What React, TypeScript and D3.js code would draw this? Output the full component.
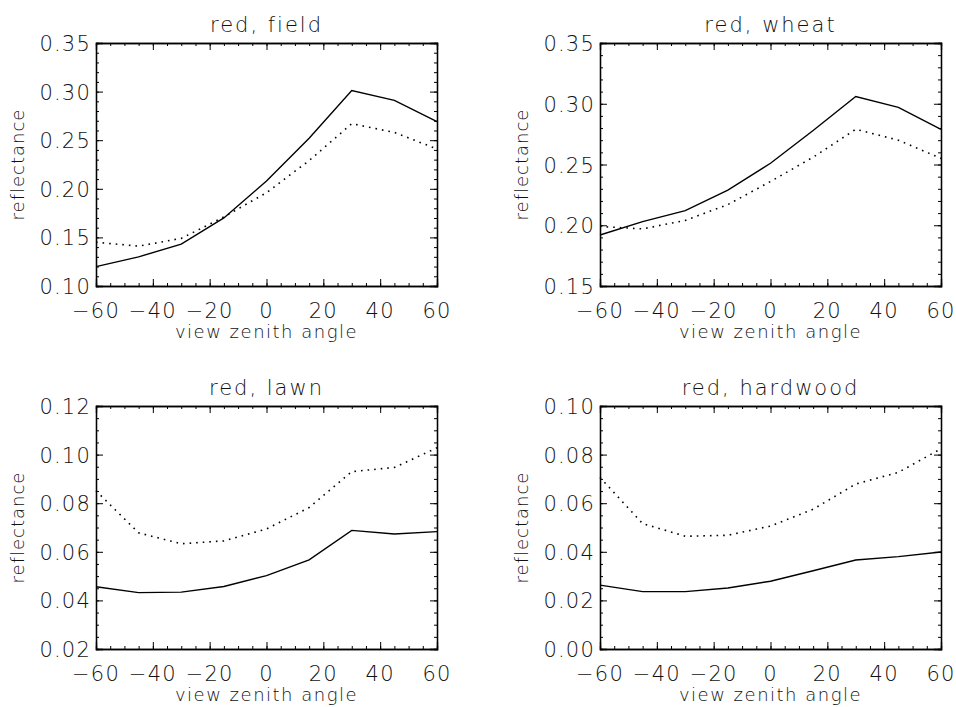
import React, { useEffect, useRef } from "react";
import * as d3 from "d3";

// view zenith angles shared by every panel
const angles = [-60, -45, -30, -15, 0, 15, 30, 45, 60];

const fieldSolid = [0.12, 0.13, 0.143, 0.17, 0.208, 0.252, 0.301, 0.291, 0.269];
const fieldDotted = [0.145, 0.141, 0.149, 0.171, 0.196, 0.229, 0.267, 0.258, 0.241];

const wheatSolid = [0.192, 0.203, 0.212, 0.229, 0.251, 0.278, 0.306, 0.297, 0.279];
const wheatDotted = [0.199, 0.197, 0.204, 0.217, 0.236, 0.256, 0.279, 0.27, 0.255];

const lawnSolid = [0.0456, 0.0432, 0.0434, 0.0457, 0.0502, 0.0567, 0.0688, 0.0673, 0.0683];
const lawnDotted = [0.0851, 0.0678, 0.0633, 0.0645, 0.0694, 0.0782, 0.093, 0.0947, 0.1028];

const hardwoodSolid = [0.0263, 0.0236, 0.0236, 0.0251, 0.0279, 0.0322, 0.0366, 0.038, 0.0399];
const hardwoodDotted = [0.0706, 0.0516, 0.0464, 0.0468, 0.0506, 0.0575, 0.0679, 0.0727, 0.0824];

const titles = ["red, field", "red, wheat", "red, lawn", "red, hardwood"];
const yDomains = [[0.1, 0.35], [0.15, 0.35], [0.02, 0.12], [0.0, 0.1]];
const yMajor = [0.05, 0.05, 0.02, 0.02];
const yMinor = [0.01, 0.01, 0.005, 0.005];
const xTicks = [-60, -40, -20, 0, 20, 40, 60];

const panels = [
  { solid: fieldSolid, dotted: fieldDotted, left: 96, top: 43 },
  { solid: wheatSolid, dotted: wheatDotted, left: 600, top: 43 },
  { solid: lawnSolid, dotted: lawnDotted, left: 96, top: 406 },
  { solid: hardwoodSolid, dotted: hardwoodDotted, left: 600, top: 406 }
];

const W = 341;
const H = 243;
const FONT = "'DejaVu Sans', sans-serif";

function range(a: number, b: number, step: number) {
  const out: number[] = [];
  const n = Math.round((b - a) / step);
  for (let i = 0; i <= n; i++) out.push(+(a + i * step).toFixed(6));
  return out;
}

function App() {
  const svgRef = useRef<SVGSVGElement>(null);

  useEffect(() => {
    const svg = d3.select(svgRef.current);
    svg.selectAll("*").remove();

    panels.forEach((p, i) => {
      const g = svg.append("g").attr("transform", `translate(${p.left},${p.top})`);
      const x = d3.scaleLinear().domain([-60, 60]).range([0, W]);
      const y = d3.scaleLinear().domain(yDomains[i]).range([H, 0]);

      const majorY = range(yDomains[i][0], yDomains[i][1], yMajor[i]);
      const minorY = range(yDomains[i][0], yDomains[i][1], yMinor[i]);
      const minorX = range(-60, 60, 5);

      // ticks on all four sides, pointing in
      const axB = d3.axisBottom(x).tickValues(minorX).tickSize(-3).tickFormat(() => "");
      const axT = d3.axisTop(x).tickValues(minorX).tickSize(-3).tickFormat(() => "");
      const axL = d3.axisLeft(y).tickValues(minorY).tickSize(-3).tickFormat(() => "");
      const axR = d3.axisRight(y).tickValues(minorY).tickSize(-3).tickFormat(() => "");
      g.append("g").attr("transform", `translate(0,${H})`).call(axB);
      g.append("g").call(axT);
      g.append("g").call(axL);
      g.append("g").attr("transform", `translate(${W},0)`).call(axR);
      g.append("g").attr("transform", `translate(0,${H})`)
        .call(d3.axisBottom(x).tickValues(xTicks).tickSize(-7).tickFormat(() => ""));
      g.append("g")
        .call(d3.axisTop(x).tickValues(xTicks).tickSize(-7).tickFormat(() => ""));
      g.append("g")
        .call(d3.axisLeft(y).tickValues(majorY).tickSize(-7).tickFormat(() => ""));
      g.append("g").attr("transform", `translate(${W},0)`)
        .call(d3.axisRight(y).tickValues(majorY).tickSize(-7).tickFormat(() => ""));
      g.selectAll(".domain").attr("stroke", "#000").attr("stroke-width", 1.3);
      g.selectAll(".tick line").attr("stroke", "#000").attr("stroke-width", 1);

      // tick labels
      g.selectAll(".xlab")
        .data(xTicks)
        .join("text")
        .attr("x", d => x(d))
        .attr("y", H + 32)
        .attr("text-anchor", "middle")
        .attr("font-size", 21)
        .attr("letter-spacing", 1.2)
        .text(d => (d < 0 ? "\u2212" + Math.abs(d) : String(d)));

      g.selectAll(".ylab")
        .data(majorY)
        .join("text")
        .attr("x", -5)
        .attr("y", d => y(d) + 8)
        .attr("text-anchor", "end")
        .attr("font-size", 21)
        .attr("letter-spacing", 1.2)
        .text(d => d3.format(".2f")(d));

      g.append("text")
        .attr("x", W / 2)
        .attr("y", -11)
        .attr("text-anchor", "middle")
        .attr("font-size", 21)
        .attr("letter-spacing", 2)
        .text(titles[i]);

      g.append("text")
        .attr("x", W / 2)
        .attr("y", H + 52)
        .attr("text-anchor", "middle")
        .attr("font-size", 18)
        .attr("letter-spacing", 1.5)
        .text("view zenith angle");

      g.append("text")
        .attr("transform", `translate(-72,${H / 2}) rotate(-90)`)
        .attr("text-anchor", "middle")
        .attr("font-size", 18)
        .attr("letter-spacing", 1)
        .text("reflectance");

      const line = d3.line<number>()
        .x((_, k) => x(angles[k]))
        .y(d => y(d));

      g.append("path")
        .datum(p.solid)
        .attr("fill", "none")
        .attr("stroke", "#000")
        .attr("stroke-width", 1.4)
        .attr("d", line);

      g.append("path")
        .datum(p.dotted)
        .attr("fill", "none")
        .attr("stroke", "#000")
        .attr("stroke-width", 1.6)
        .attr("stroke-dasharray", "1.6,5")
        .attr("d", line);
    });

    svg.selectAll("text")
      .attr("font-family", FONT)
      .attr("font-weight", 200)
      .attr("fill", "#111");
  }, []);

  return (
    <svg
      ref={svgRef}
      width={956}
      height={707}
      style={{ position: "absolute", left: 0, top: 0, background: "#fff" }}
    />
  );
}

export default App;
